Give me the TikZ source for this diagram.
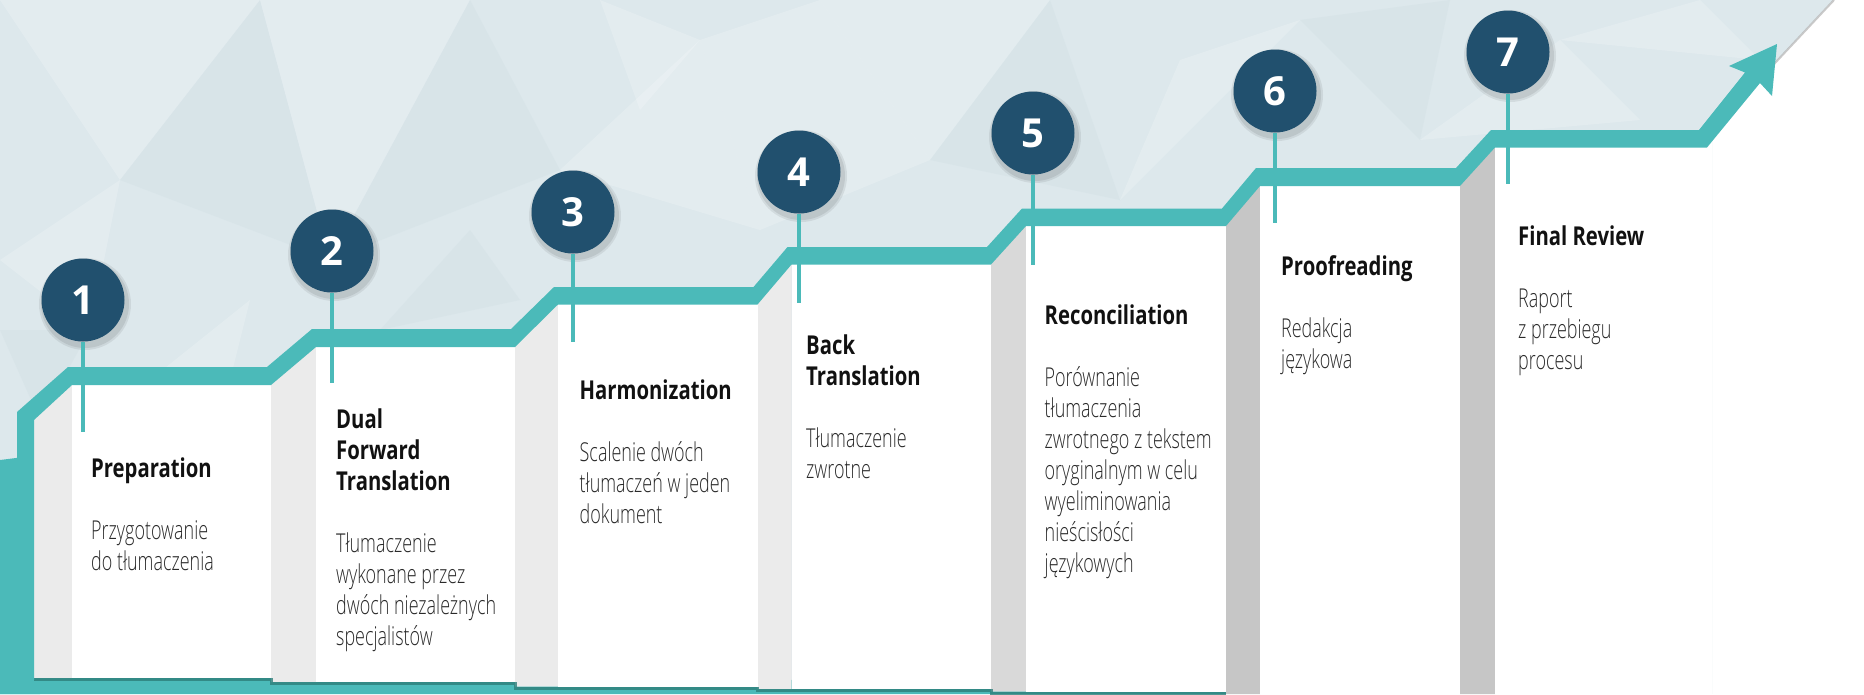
\documentclass[tikz,border=0pt]{standalone}
\usepackage{fontspec}
\setmainfont{Open Sans}
\newfontfamily\titlefont{Open Sans}[FakeStretch=0.78]
\newfontfamily\bodyfont{Open Sans Light}[FakeStretch=0.69]
\newfontfamily\numfont{Open Sans}
\usetikzlibrary{calc}
\definecolor{bgblue}{HTML}{DDE8EC}
\definecolor{bgdark}{HTML}{CFDEE3}
\definecolor{tealc}{HTML}{4BBAB9}
\definecolor{tealdark}{HTML}{2E7E7A}
\definecolor{navyc}{HTML}{21506E}
\definecolor{sidea}{HTML}{EBEBEB}
\definecolor{sideb}{HTML}{D9D9D9}
\definecolor{sidec}{HTML}{C6C6C6}
\definecolor{bodyc}{HTML}{2A2A2A}
\definecolor{titlec}{HTML}{111111}
\tikzset{
  numcirc/.style={circle, fill=navyc, minimum size=83pt, inner sep=0pt, text=white,
    font=\numfont\bfseries\fontsize{40}{40}\selectfont},
  pinline/.style={draw=tealc, line width=3.5pt},
  titletext/.style={anchor=base west, inner sep=0pt, text=titlec,
    font=\titlefont\bfseries\fontsize{26}{31}\selectfont},
  bodytext/.style={anchor=base west, inner sep=0pt, text=bodyc,
    font=\bodyfont\fontsize{26}{31}\selectfont},
  facetlight/.style={fill=white, opacity=0.2},
  facetdark/.style={fill=bgdark, opacity=0.35},
  frontface/.style={fill=white},
}
\newcommand{\stepblock}[6]{%
  \foreach \l [count=\i] in {#4} {\node[titletext] (t#1-\i) at (#2, {#3+31*(\i-1)}) {\l};}
  \foreach \l [count=\i] in {#6} {\node[bodytext] (b#1-\i) at (#2, {#3+31*(#5-1)+62+31*(\i-1)}) {\l};}
}
\begin{document}
\begin{tikzpicture}[x=1pt,y=-1pt]
\useasboundingbox (0,0) rectangle (1864,694);
\fill[white] (0,0) rectangle (1864,694);
% textured background
\begin{scope}
\clip (0,0) -- (1833,0) -- (1712,130) -- (1712,694) -- (0,694) -- cycle;
\fill[bgblue] (0,0) rectangle (1864,694);
\fill[facetlight] (0,0) -- (260,0) -- (120,180) -- cycle;
\fill[facetdark] (120,180) -- (260,0) -- (330,260) -- cycle;
\fill[facetlight] (260,0) -- (470,0) -- (330,260) -- cycle;
\fill[facetlight] (0,260) -- (120,180) -- (90,330) -- cycle;
\fill[facetdark] (330,260) -- (470,0) -- (560,170) -- cycle;
\fill[facetlight] (560,170) -- (700,40) -- (760,230) -- cycle;
\fill[facetlight] (820,0) -- (1050,0) -- (930,160) -- cycle;
\fill[facetdark] (930,160) -- (1050,0) -- (1120,200) -- cycle;
\fill[facetlight] (700,40) -- (820,0) -- (930,160) -- (760,230) -- cycle;
\fill[facetlight] (1120,200) -- (1180,60) -- (1300,20) -- cycle;
\fill[facetdark] (1300,20) -- (1450,0) -- (1420,140) -- cycle;
\fill[facetlight] (1420,140) -- (1560,40) -- (1640,120) -- cycle;
\fill[facetlight] (1560,40) -- (1700,0) -- (1760,60) -- cycle;
\fill[facetdark] (380,330) -- (470,230) -- (520,300) -- cycle;
\fill[facetlight] (150,380) -- (250,300) -- (230,380) -- cycle;
\fill[facetlight] (600,0) -- (700,40) -- (640,110) -- cycle;
\fill[facetdark] (0,330) -- (90,330) -- (40,420) -- cycle;
\end{scope}
\draw[black!35, line width=2pt, opacity=0.6] (1834,0) -- (1760,79);
% teal lower-left region
\fill[tealc] (0,460) -- (40,455) -- (40,694) -- (0,694) -- cycle;
\fill[tealc] (0,672) -- (1226,684) -- (1226,694) -- (0,694) -- cycle;
% side faces
\fill[sidea] (34,415) -- (72,380) -- (72,678) -- (34,678) -- cycle;
\fill[sidea] (271,380) -- (316,342) -- (316,682) -- (271,682) -- cycle;
\fill[sidea] (515,342) -- (558,300) -- (558,686.5) -- (515,686.5) -- cycle;
\fill[sidea] (757.5,300) -- (791.5,260) -- (791.5,689) -- (757.5,689) -- cycle;
\fill[sideb] (991,260) -- (1026,221) -- (1026,691.5) -- (991,691.5) -- cycle;
\fill[sidec] (1226,221) -- (1260,181) -- (1260,694) -- (1226,694) -- cycle;
\fill[sidec] (1460,181) -- (1495,142) -- (1495,694) -- (1460,694) -- cycle;
% front faces
\fill[frontface] (72,380) rectangle (271,678);
\fill[frontface] (316,342) rectangle (515,682);
\fill[frontface] (558,300) rectangle (757.5,686.5);
\fill[frontface] (791.5,260) rectangle (991,689);
\fill[frontface] (1026,221) rectangle (1226,691.5);
\fill[frontface] (1260,181) rectangle (1460,694);
\fill[frontface] (1495,142) rectangle (1712,694);
% bottom shadows
\draw[tealdark, line width=3pt, opacity=0.8] (34,679.5) -- (271,679.5) -- (271,683.5) -- (515,683.5) -- (515,688) -- (757.5,688) -- (757.5,690.5) -- (991,690.5) -- (991,693) -- (1226,693);
% stair band with arrow
\fill[tealc] (34,680) -- (34,420) -- (72,385) -- (271,385) -- (316,347) -- (515,347)
  -- (558,304.5) -- (757.5,304.5) -- (791.5,264.5) -- (991,264.5) -- (1026,226)
  -- (1226,226) -- (1260,186) -- (1460,186) -- (1495,147.5) -- (1707,147.5)
  -- (1760,83) -- (1772,96) -- (1777,44) -- (1729,66) -- (1745,72.5)
  -- (1699,130) -- (1491,130) -- (1456,168) -- (1256,168) -- (1222,208.5)
  -- (1022,208.5) -- (987,247) -- (787.5,247) -- (753.5,287) -- (554,287)
  -- (511,329) -- (312,329) -- (267,367) -- (68,367) -- (17,412) -- (17,680) -- cycle;
% pins and circles
\foreach \k/\cx/\cy/\py in {1/83/300/432, 2/332/251/383, 3/573/212/342, 4/799/172/303,
    5/1033/133/265, 6/1275/91/223, 7/1508/52/184} {
  \fill[black, opacity=0.07] (\cx+2,\cy+4) circle[radius=46pt];
  \fill[black, opacity=0.08] (\cx+2,\cy+4) circle[radius=44pt];
  \coordinate (p\k) at (\cx,\py);
  \node[numcirc] (c\k) at (\cx,\cy) {\k};
  \draw[pinline] (c\k.south) -- (p\k);
}
% texts
\stepblock{1}{91}{477}{Preparation}{1}{Przygotowanie, do tłumaczenia}
\stepblock{2}{336}{428}{Dual, Forward, Translation}{3}{Tłumaczenie, wykonane przez, dwóch niezależnych, specjalistów}
\stepblock{3}{579.5}{399}{Harmonization}{1}{Scalenie dwóch, tłumaczeń w jeden, dokument}
\stepblock{4}{806}{354}{Back, Translation}{2}{Tłumaczenie, zwrotne}
\stepblock{5}{1044.5}{324}{Reconciliation}{1}{Porównanie, tłumaczenia, zwrotnego z tekstem, oryginalnym w celu, wyeliminowania, nieścisłości, językowych}
\stepblock{6}{1281}{275}{Proofreading}{1}{Redakcja, językowa}
\stepblock{7}{1518}{245}{Final Review}{1}{Raport, z przebiegu, procesu}
\end{tikzpicture}
\end{document}
